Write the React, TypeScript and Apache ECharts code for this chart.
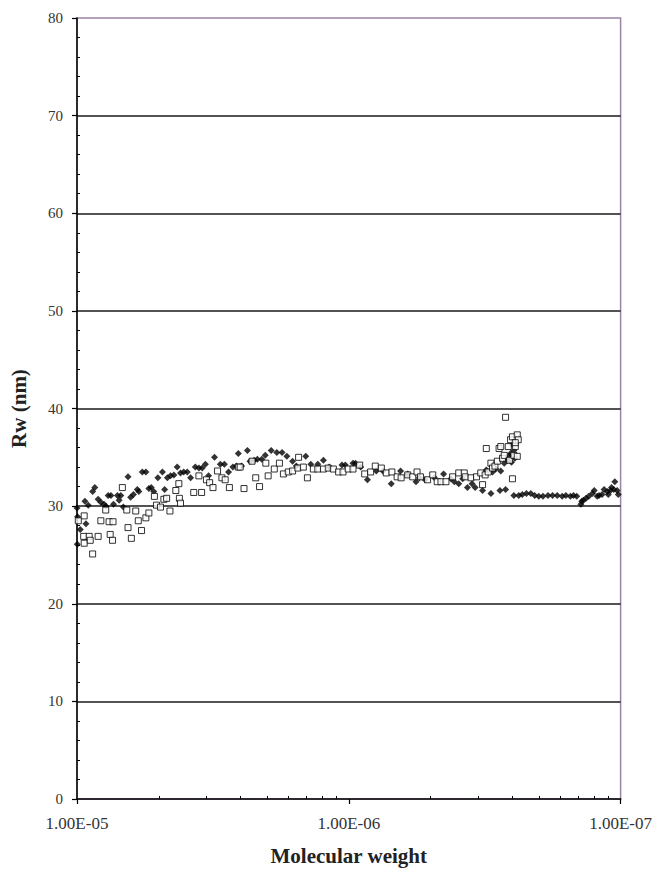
import React, { useEffect, useRef } from "react";
import * as echarts from "echarts";

// Filled diamonds: [x value, Rw (nm)]
const diamondPoints: [number, number][] = [
  [1.0e-5, 29.8], [9.95e-6, 28.9], [9.73e-6, 27.6], [9.98e-6, 26.1], [9.27e-6, 28.2],
  [9.35e-6, 30.5], [9.09e-6, 30.1], [8.76e-6, 31.5], [8.6e-6, 31.9], [8.36e-6, 30.7],
  [8.17e-6, 30.4], [7.95e-6, 30.2], [7.82e-6, 30.0], [7.68e-6, 31.1], [7.5e-6, 31.1],
  [7.34e-6, 30.2], [7.1e-6, 31.1], [6.9e-6, 31.1], [7.0e-6, 30.6], [6.75e-6, 29.9],
  [6.49e-6, 33.0], [6.35e-6, 30.9], [6.2e-6, 31.2], [6.0e-6, 31.7], [5.92e-6, 31.5],
  [5.75e-6, 33.5], [5.58e-6, 33.5], [5.44e-6, 31.8], [5.33e-6, 31.9], [5.22e-6, 31.5],
  [5.04e-6, 32.9], [4.85e-6, 33.5], [4.76e-6, 31.7], [4.65e-6, 32.9], [4.53e-6, 33.1],
  [4.4e-6, 33.2], [4.28e-6, 34.0], [4.16e-6, 33.4], [4.05e-6, 33.5], [3.93e-6, 33.5],
  [3.82e-6, 32.9], [3.67e-6, 34.0], [3.56e-6, 33.9], [3.46e-6, 33.9], [3.37e-6, 34.3],
  [3.28e-6, 33.1], [3.12e-6, 35.0], [2.97e-6, 34.3], [2.87e-6, 34.3], [2.77e-6, 33.5],
  [2.67e-6, 34.0], [2.59e-6, 34.1], [2.55e-6, 35.4], [2.48e-6, 34.1], [2.36e-6, 35.7],
  [2.31e-6, 34.6], [2.23e-6, 34.7], [2.17e-6, 34.8], [2.09e-6, 34.8], [2.03e-6, 35.2],
  [1.93e-6, 35.7], [1.84e-6, 35.5], [1.76e-6, 35.5], [1.69e-6, 35.1], [1.61e-6, 34.6],
  [1.56e-6, 34.1], [1.44e-6, 35.1], [1.38e-6, 34.3], [1.3e-6, 34.3], [1.24e-6, 34.7],
  [1.18e-6, 34.0], [1.06e-6, 34.2], [1.03e-6, 34.2], [9.65e-7, 34.4], [9.45e-7, 34.4],
  [9.04e-7, 34.0], [8.54e-7, 32.7], [7.92e-7, 33.6], [7.49e-7, 33.6], [6.98e-7, 32.3],
  [6.45e-7, 33.6], [6.07e-7, 33.3], [5.66e-7, 32.5], [5.5e-7, 32.9], [5.24e-7, 32.7],
  [4.84e-7, 32.9], [4.48e-7, 33.3], [4.21e-7, 32.8], [4.09e-7, 32.5], [3.94e-7, 32.3],
  [3.81e-7, 32.8], [3.66e-7, 31.9], [3.52e-7, 32.3], [3.43e-7, 31.9], [3.22e-7, 31.6],
  [3.12e-7, 33.7], [3.0e-7, 31.3], [2.96e-7, 33.5], [2.88e-7, 33.8], [2.78e-7, 31.6],
  [2.76e-7, 33.6], [2.68e-7, 34.4], [2.65e-7, 31.7], [2.61e-7, 34.7], [2.57e-7, 35.1],
  [2.54e-7, 35.4], [2.52e-7, 34.5], [2.5e-7, 36.3], [2.47e-7, 35.7], [2.45e-7, 34.9],
  [2.47e-7, 31.1], [2.37e-7, 31.1], [2.3e-7, 31.2], [2.22e-7, 31.3], [2.14e-7, 31.3],
  [2.07e-7, 31.1], [2.0e-7, 31.0], [1.93e-7, 31.0], [1.85e-7, 31.1], [1.78e-7, 31.1],
  [1.71e-7, 31.1], [1.64e-7, 31.0], [1.59e-7, 31.1], [1.53e-7, 31.0], [1.49e-7, 31.1],
  [1.45e-7, 31.0], [1.4e-7, 30.2], [1.39e-7, 30.5], [1.37e-7, 30.6], [1.34e-7, 30.8],
  [1.31e-7, 31.0], [1.27e-7, 31.3], [1.25e-7, 31.6], [1.22e-7, 31.0], [1.2e-7, 31.1],
  [1.17e-7, 31.2], [1.15e-7, 31.7], [1.12e-7, 31.5], [1.11e-7, 31.2], [1.09e-7, 31.6],
  [1.08e-7, 31.9], [1.06e-7, 31.7], [1.05e-7, 32.5], [1.03e-7, 31.6], [1.02e-7, 31.2],
];

// Open squares: [x value, Rw (nm)]
const squarePoints: [number, number][] = [
  [9.41e-6, 29.0], [9.89e-6, 28.5], [9.45e-6, 26.9], [9.41e-6, 26.2], [9.02e-6, 26.9],
  [8.94e-6, 26.5], [8.76e-6, 25.1], [8.36e-6, 26.9], [8.17e-6, 28.5], [7.84e-6, 29.6],
  [7.62e-6, 28.4], [7.37e-6, 28.4], [7.55e-6, 27.1], [7.4e-6, 26.5], [6.81e-6, 31.9],
  [6.56e-6, 29.6], [6.49e-6, 27.8], [6.31e-6, 26.7], [6.08e-6, 29.5], [5.95e-6, 28.5],
  [5.79e-6, 27.5], [5.58e-6, 28.8], [5.44e-6, 29.3], [5.19e-6, 31.0], [5.1e-6, 30.1],
  [4.93e-6, 29.9], [4.79e-6, 30.7], [4.68e-6, 30.8], [4.55e-6, 29.5], [4.33e-6, 31.6],
  [4.22e-6, 32.3], [4.2e-6, 30.8], [4.16e-6, 30.3], [3.72e-6, 31.4], [3.56e-6, 33.1],
  [3.48e-6, 31.4], [3.34e-6, 32.7], [3.25e-6, 32.4], [3.16e-6, 31.9], [3.04e-6, 33.6],
  [2.93e-6, 32.9], [2.85e-6, 32.7], [2.75e-6, 31.9], [2.55e-6, 34.0], [2.51e-6, 34.0],
  [2.43e-6, 31.8], [2.27e-6, 34.6], [2.2e-6, 32.9], [2.13e-6, 32.0], [2.02e-6, 34.4],
  [1.98e-6, 33.1], [1.88e-6, 33.8], [1.8e-6, 34.4], [1.74e-6, 33.3], [1.67e-6, 33.5],
  [1.61e-6, 33.6], [1.54e-6, 33.9], [1.53e-6, 35.0], [1.47e-6, 34.0], [1.42e-6, 32.9],
  [1.35e-6, 33.8], [1.3e-6, 33.8], [1.24e-6, 33.8], [1.19e-6, 33.9], [1.14e-6, 33.8],
  [1.09e-6, 33.5], [1.05e-6, 33.5], [1.005e-6, 33.8], [9.65e-7, 33.8], [9.12e-7, 34.2],
  [8.74e-7, 33.3], [8.31e-7, 33.5], [7.99e-7, 34.1], [7.59e-7, 33.9], [7.28e-7, 33.4],
  [6.94e-7, 33.5], [6.64e-7, 33.0], [6.42e-7, 32.9], [6.07e-7, 33.2], [5.82e-7, 33.0],
  [5.61e-7, 33.5], [5.45e-7, 33.0], [5.13e-7, 32.7], [4.91e-7, 33.2], [4.73e-7, 32.5],
  [4.58e-7, 32.5], [4.39e-7, 32.5], [4.15e-7, 33.0], [3.94e-7, 33.4], [3.76e-7, 33.4],
  [3.73e-7, 33.0], [3.55e-7, 32.9], [3.39e-7, 33.0], [3.27e-7, 33.4], [3.22e-7, 32.2],
  [3.15e-7, 33.2], [3.12e-7, 35.9], [3.07e-7, 33.5], [3.0e-7, 34.4], [2.96e-7, 33.9],
  [2.9e-7, 34.1], [2.84e-7, 34.6], [2.8e-7, 35.9], [2.76e-7, 36.1], [2.72e-7, 34.9],
  [2.68e-7, 35.2], [2.65e-7, 39.1], [2.59e-7, 36.1], [2.56e-7, 34.7], [2.54e-7, 36.8],
  [2.5e-7, 37.1], [2.5e-7, 32.8], [2.47e-7, 35.2], [2.44e-7, 36.1], [2.4e-7, 37.3],
  [2.4e-7, 35.1], [2.38e-7, 36.8], [2.44e-7, 36.5],
];

const xMin = 1e-7;
const xMax = 1e-5;
const yMin = 0;
const yMax = 80;
const yStep = 10;
const yMinorStep = 2;
const xTitle = "Molecular weight";
const yTitle = "Rw (nm)";

const serif = "'Liberation Serif', 'Times New Roman', serif";

function fmtSci(v: number): string {
  const e = Math.floor(Math.log10(v) + 1e-6);
  const m = v / Math.pow(10, e);
  const sign = e < 0 ? "-" : "+";
  return `${m.toFixed(2)}E${sign}${String(Math.abs(e)).padStart(2, "0")}`;
}

export default function App() {
  const ref = useRef<HTMLDivElement>(null);
  useEffect(() => {
    if (!ref.current) return;
    const chart = echarts.init(ref.current, undefined, { renderer: "svg" });

    // Excel-style minor tick positions (per decade, measured from the left end)
    const minorX: number[] = [];
    for (let d = 0; d < 2; d++) {
      for (let k = 2; k <= 9; k++) minorX.push(d + Math.log10(k));
    }
    const minorY: number[] = [];
    for (let v = yMin + yMinorStep; v < yMax; v += yMinorStep) {
      if (v % yStep !== 0) minorY.push(v);
    }

    chart.setOption({
      animation: false,
      backgroundColor: "#ffffff",
      grid: {
        left: 76,
        top: 18,
        width: 546,
        height: 784,
        show: true,
        borderColor: "#9c84a8",
        borderWidth: 1.5,
        backgroundColor: "transparent",
      },
      xAxis: [
        {
          type: "log",
          logBase: 10,
          min: xMin,
          max: xMax,
          inverse: true,
          position: "bottom",
          axisLine: { show: true, onZero: false, lineStyle: { color: "#000", width: 1.5 } },
          axisTick: { show: true, inside: false, length: 5, lineStyle: { color: "#000", width: 1.2 } },
          axisLabel: {
            formatter: (v: number) => fmtSci(v),
            fontFamily: serif,
            fontSize: 17,
            color: "#333",
            margin: 16,
            showMinLabel: true,
            showMaxLabel: true,
          },
          splitLine: { show: false },
          name: xTitle,
          nameLocation: "middle",
          nameGap: 46,
          nameTextStyle: { fontFamily: serif, fontSize: 21, fontWeight: "bold", color: "#222" },
        },
        {
          type: "value",
          min: 0,
          max: 2,
          position: "bottom",
          axisLine: { show: false, onZero: false },
          axisLabel: { show: false },
          axisTick: {
            show: true,
            inside: true,
            length: 3,
            customValues: minorX,
            lineStyle: { color: "#000", width: 1 },
          },
          splitLine: { show: false },
        },
      ],
      yAxis: [
        {
          type: "value",
          min: yMin,
          max: yMax,
          interval: yStep,
          axisLine: { show: true, onZero: false, lineStyle: { color: "#000", width: 1.5 } },
          axisTick: { show: true, inside: false, length: 5, lineStyle: { color: "#000", width: 1.2 } },
          axisLabel: { fontFamily: serif, fontSize: 15, color: "#333", margin: 14 },
          splitLine: {
            show: true,
            showMinLine: false,
            showMaxLine: false,
            lineStyle: { color: "#1a1a1a", width: 1.5 },
          },
          name: yTitle,
          nameLocation: "middle",
          nameGap: 48,
          nameRotate: 90,
          nameTextStyle: { fontFamily: serif, fontSize: 21, fontWeight: "bold", color: "#222" },
        },
        {
          type: "value",
          min: yMin,
          max: yMax,
          position: "left",
          axisLine: { show: false, onZero: false },
          axisLabel: { show: false },
          axisTick: {
            show: true,
            inside: true,
            length: 3,
            customValues: minorY,
            lineStyle: { color: "#000", width: 1 },
          },
          splitLine: { show: false },
        },
      ],
      series: [
        {
          type: "scatter",
          xAxisIndex: 0,
          yAxisIndex: 0,
          data: diamondPoints,
          symbol: "diamond",
          symbolSize: 7,
          itemStyle: { color: "#000" },
          z: 3,
        },
        {
          type: "scatter",
          xAxisIndex: 0,
          yAxisIndex: 0,
          data: squarePoints,
          symbol: "rect",
          symbolSize: 6,
          itemStyle: { color: "#fff", borderColor: "#000", borderWidth: 1 },
          z: 4,
        },
      ],
    });
    return () => chart.dispose();
  }, []);

  return (
    <div
      ref={ref}
      style={{ position: "fixed", left: 0, top: 0, width: 655, height: 871, background: "#fff" }}
    />
  );
}
